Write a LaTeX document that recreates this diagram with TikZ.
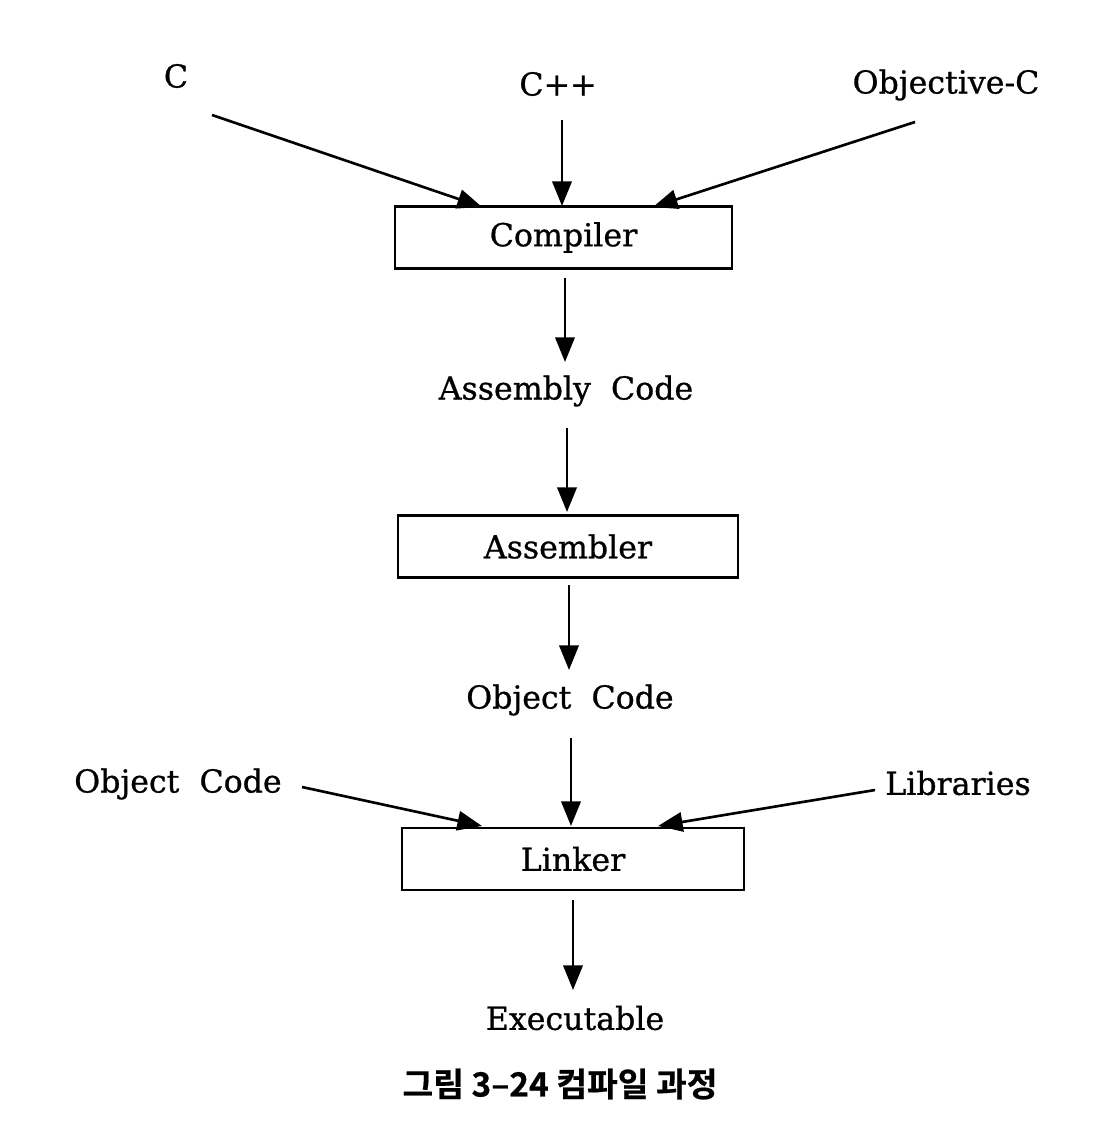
\documentclass[tikz,border=0pt]{standalone}
\usepackage{fontspec}
\setmainfont{DejaVu Serif}
\newfontfamily\diafont{DejaVu Serif}[FakeBold=0.8]
\newfontfamily\krfont{Noto Sans CJK KR Bold}[FakeBold=0.6]
\usetikzlibrary{arrows.meta}
\begin{document}
\begin{tikzpicture}[x=0.02cm,y=-0.02cm,
  lbl/.style={font=\diafont\fontsize{18}{20}\selectfont, inner sep=0pt},
  stagebox/.style={draw, line width=1.2pt, minimum height=62*0.02cm, inner sep=0pt, font=\diafont\fontsize{18}{20}\selectfont},
  arr/.style={line width=1.5pt, -{Triangle[length=14pt,width=11pt]}}]
\useasboundingbox (0,0) rectangle (1100,1132);
% labels
\node[lbl] (c) at (176,76) {C};
\node[lbl] (cpp) at (558,84) {C++};
\node[lbl] (objc) at (946,85) {Objective-C};
\node[stagebox, minimum width=337*0.02cm] (comp) at (563.5,237.5) {Compiler};
\node[lbl] (asm) at (566,391) {Assembly\ \ Code};
\node[stagebox, minimum width=340*0.02cm] (asmb) at (568,546.5) {Assembler};
\node[lbl] (obj) at (570,700) {Object\ \ Code};
\node[lbl] (objl) at (178,784) {Object\ \ Code};
\node[lbl] (lib) at (958,783) {Libraries};
\node[stagebox, minimum width=342*0.02cm] (link) at (573,859) {Linker};
\node[lbl] (exe) at (575,1018) {Executable};
\node[inner sep=0pt, font=\krfont\fontsize{19}{21}\selectfont] (cap) at (560,1084) {그림 3–24 컴파일 과정};
% arrow endpoints
\coordinate (c0) at (212,115);
\coordinate (c1) at (482,207);
\coordinate (p0) at (562,120);
\coordinate (p1) at (562,206);
\coordinate (o0) at (915,122);
\coordinate (o1) at (653,207);
\coordinate (a0) at (565,278);
\coordinate (a1) at (565,362);
\coordinate (b0) at (567,428);
\coordinate (b1) at (567,512);
\coordinate (d0) at (569,585);
\coordinate (d1) at (569,670);
\coordinate (e0) at (571,738);
\coordinate (e1) at (571,826);
\coordinate (l0) at (302,787);
\coordinate (l1) at (482,826);
\coordinate (r0) at (875,790);
\coordinate (r1) at (658,826);
\coordinate (x0) at (573,900);
\coordinate (x1) at (573,990);
\draw[arr] (c0) -- (c1);
\draw[arr] (p0) -- (p1);
\draw[arr] (o0) -- (o1);
\draw[arr] (a0) -- (a1);
\draw[arr] (b0) -- (b1);
\draw[arr] (d0) -- (d1);
\draw[arr] (e0) -- (e1);
\draw[arr] (l0) -- (l1);
\draw[arr] (r0) -- (r1);
\draw[arr] (x0) -- (x1);
\end{tikzpicture}
\end{document}
